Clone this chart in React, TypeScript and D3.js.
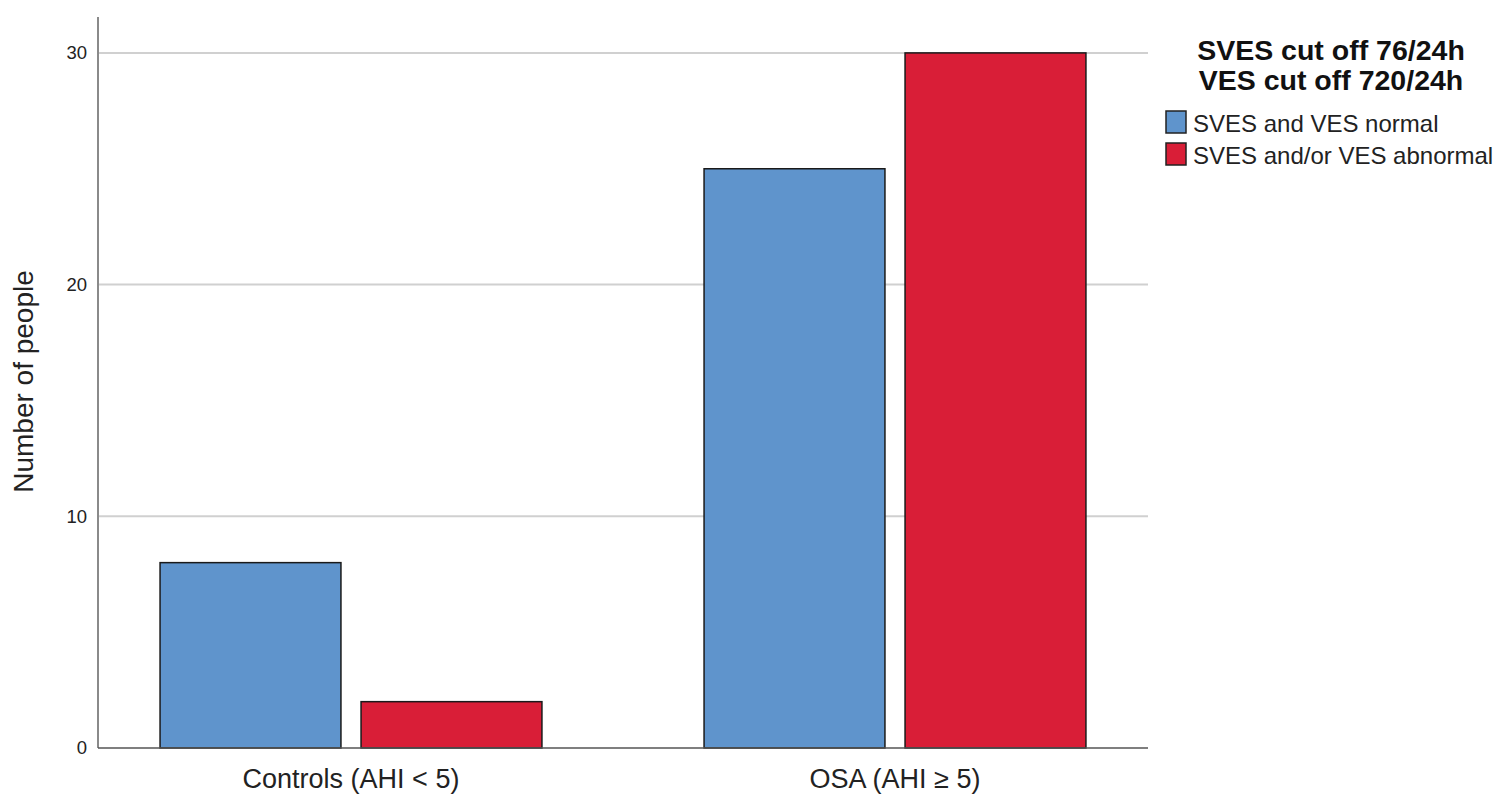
import React from "react";
import * as d3 from "d3";

const categories = ["Controls (AHI < 5)", "OSA (AHI \u2265 5)"];
const seriesNames = ["SVES and VES normal", "SVES and/or VES abnormal"];
const normalValues = [8, 25];
const abnormalValues = [2, 30];
const yTicks = [0, 10, 20, 30];
const legendTitle = ["SVES cut off 76/24h", "VES cut off 720/24h"];
const colors = ["#5f94cc", "#d91e37"];

export default function App() {
  const W = 1500, H = 809;
  const axisLeft = 98, axisRight = 1148, axisBottom = 748, axisTop = 17;
  const y = d3.scaleLinear().domain([0, 31.55]).range([axisBottom, axisTop]);
  const x0 = d3.scaleBand().domain(categories).range([79, 1167]).paddingInner(0.298).paddingOuter(0.149);
  const x1 = d3.scaleBand().domain(seriesNames).range([0, x0.bandwidth()]).paddingInner(0.1);
  const series = [normalValues, abnormalValues];
  const font = "'Liberation Sans', Arial, sans-serif";
  return (
    <svg width={W} height={H} style={{ position: "absolute", left: 0, top: 0, background: "#fff" }} fontFamily={font}>
      {yTicks.filter(t => t > 0).map(t => (
        <line key={t} x1={axisLeft} x2={axisRight} y1={y(t)} y2={y(t)} stroke="#d0d0d0" strokeWidth={2} />
      ))}
      {categories.map((c, ci) =>
        series.map((vals, si) => {
          const bx = (x0(c) as number) + (x1(seriesNames[si]) as number);
          return (
            <rect key={c + si} x={bx} y={y(vals[ci])} width={x1.bandwidth()} height={axisBottom - y(vals[ci])}
              fill={colors[si]} stroke="#1a1a1a" strokeWidth={1.5} />
          );
        })
      )}
      <line x1={axisLeft} x2={axisLeft} y1={axisTop} y2={axisBottom} stroke="#8a8a8a" strokeWidth={2} />
      <line x1={axisLeft} x2={axisRight} y1={axisBottom} y2={axisBottom} stroke="#555" strokeWidth={1.5} />
      {yTicks.map(t => (
        <text key={t} x={87} y={y(t)} dy="0.35em" textAnchor="end" fontSize={18.5} fill="#222">{t}</text>
      ))}
      {categories.map((c) => (
        <text key={c} x={(x0(c) as number) + x0.bandwidth() / 2} y={788} textAnchor="middle" fontSize={27} fill="#222">{c}</text>
      ))}
      <text transform={`translate(33,${(axisTop + axisBottom) / 2 - 1}) rotate(-90)`} textAnchor="middle" fontSize={28} fill="#222">Number of people</text>
      {legendTitle.map((t, i) => (
        <text key={t} x={1331} y={60 + i * 30} textAnchor="middle" fontSize={28.5} fontWeight="bold" fill="#111">{t}</text>
      ))}
      {seriesNames.map((s, i) => (
        <g key={s} transform={`translate(1166,${111 + i * 32})`}>
          <rect x={0} y={0} width={20} height={22} fill={colors[i]} stroke="#222" strokeWidth={1.5} />
          <text x={27} y={21} fontSize={24} fill="#222">{s}</text>
        </g>
      ))}
    </svg>
  );
}
